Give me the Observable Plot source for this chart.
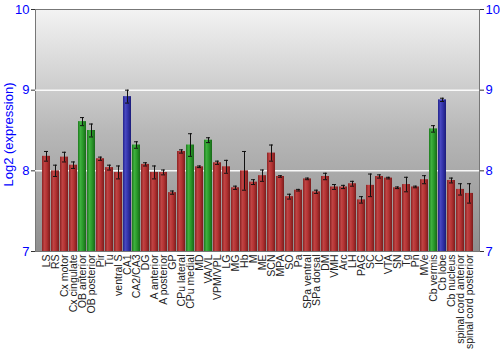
<!DOCTYPE html>
<html>
<head>
<meta charset="utf-8">
<script src="https://cdn.jsdelivr.net/npm/d3@7"></script>
<script src="https://cdn.jsdelivr.net/npm/@observablehq/plot@0.6"></script>
<style>
  body { margin: 0; background: #fff; }
  svg { font-family: "Liberation Sans", Arial, sans-serif; }
</style>
</head>
<body>
<div id="chart"></div>
<script>
const regions = ["LS","RS","Cx motor","Cx cingulate","OB anterior","OB posterior","Pir","Tu","ventral S","CA1","CA2/CA3","DG","A anterior","A posterior","GP","CPu lateral","CPu medial","MD","VA/VL","VPM/VPL","LG","MG","Hb","M","ME","SCN","MPA","SO","Pa","SPa ventral","SPa dorsal","DM","VMH","Arc","LH","PAG","SC","IC","VTA","SN","Tg","Pn","MVe","Cb vermis","Cb lobe","Cb nucleus","spinal cord anterior","spinal cord posterior"];
const values = [8.18,8.00,8.17,8.07,8.61,8.50,8.15,8.04,7.98,8.92,8.32,8.08,7.98,7.98,7.73,8.24,8.32,8.05,8.38,8.10,8.05,7.79,8.00,7.86,7.94,8.22,7.93,7.68,7.76,7.90,7.74,7.93,7.80,7.80,7.84,7.64,7.82,7.93,7.91,7.79,7.83,7.80,7.89,8.52,8.88,7.88,7.77,7.72];
const errors = [0.06,0.07,0.06,0.04,0.05,0.08,0.02,0.03,0.08,0.08,0.04,0.02,0.08,0.03,0.02,0.02,0.14,0.01,0.03,0.02,0.08,0.02,0.24,0.03,0.07,0.10,0.01,0.03,0.01,0.01,0.02,0.04,0.03,0.02,0.03,0.04,0.14,0.02,0.01,0.01,0.09,0.01,0.05,0.04,0.02,0.03,0.07,0.12];
const groups = ["r","r","r","r","g","g","r","r","r","b","g","r","r","r","r","r","g","r","g","r","r","r","r","r","r","r","r","r","r","r","r","r","r","r","r","r","r","r","r","r","r","r","r","g","b","r","r","r"];
const yTicks = [7,8,9,10];
const yLabel = "Log2 (expression)";

const data = regions.map((r, i) => ({region: r, value: values[i], err: errors[i], group: groups[i]}));

const chart = Plot.plot({
  width: 500,
  height: 350,
  marginLeft: 35,
  marginRight: 21,
  marginTop: 9,
  marginBottom: 99,
  style: {fontSize: "11px", fontFamily: "Liberation Sans, Arial, sans-serif", background: "white"},
  x: {domain: regions, padding: 0.12, label: null},
  y: {domain: [7, 10], label: null},
  marks: [
    Plot.frame({fill: "url(#bgGrad)", stroke: "#777"}),
    Plot.ruleY([8, 9], {stroke: "white", strokeWidth: 1.5, strokeOpacity: 0.9}),
    Plot.barY(data, {x: "region", y1: 7, y2: "value", fill: d => `url(#bar-${d.group})`}),
    Plot.ruleX(data, {x: "region", y1: d => d.value - d.err, y2: d => d.value + d.err, stroke: "#111", strokeWidth: 1}),
    Plot.tickY(data, {x: "region", y: d => d.value - d.err, stroke: "#111", insetLeft: 2, insetRight: 2}),
    Plot.tickY(data, {x: "region", y: d => d.value + d.err, stroke: "#111", insetLeft: 2, insetRight: 2}),
    Plot.axisX({tickRotate: -90, tickSize: 0, tickPadding: 3, fill: "#222", fontSize: 10.5, label: null}),
    Plot.axisY({anchor: "left", ticks: yTicks, tickFormat: "d", tickSize: 4, tickPadding: 2, fill: "blue", stroke: "#333", fontSize: 13, label: null}),
    Plot.axisY({anchor: "right", ticks: yTicks, tickFormat: "d", tickSize: 4, tickPadding: 2, fill: "blue", stroke: "#333", fontSize: 13, label: null}),
    Plot.text([yLabel], {frameAnchor: "left", textAnchor: "middle", rotate: -90, dx: -27, dy: 4, fill: "blue", fontSize: 13})
  ]
});

const ns = "http://www.w3.org/2000/svg";
const defs = document.createElementNS(ns, "defs");
function lin(id, vertical, stops) {
  const g = document.createElementNS(ns, "linearGradient");
  g.setAttribute("id", id);
  g.setAttribute("x1", "0"); g.setAttribute("y1", "0");
  g.setAttribute("x2", vertical ? "0" : "1"); g.setAttribute("y2", vertical ? "1" : "0");
  for (const [o, c] of stops) {
    const s = document.createElementNS(ns, "stop");
    s.setAttribute("offset", o);
    s.setAttribute("stop-color", c);
    g.appendChild(s);
  }
  defs.appendChild(g);
}
lin("bgGrad", true, [["0", "#f3f3f3"], ["0.5", "#b8b8b8"], ["1", "#8e8e8e"]]);
lin("bar-r", false, [["0", "#8a2222"], ["0.3", "#c04444"], ["0.6", "#b33232"], ["1", "#7a1c1c"]]);
lin("bar-g", false, [["0", "#1d7a1d"], ["0.3", "#3fb03f"], ["0.6", "#2a9a2a"], ["1", "#186818"]]);
lin("bar-b", false, [["0", "#22228a"], ["0.3", "#4848c0"], ["0.6", "#3333aa"], ["1", "#1c1c78"]]);
chart.insertBefore(defs, chart.firstChild);

document.getElementById("chart").appendChild(chart);
</script>
</body>
</html>
